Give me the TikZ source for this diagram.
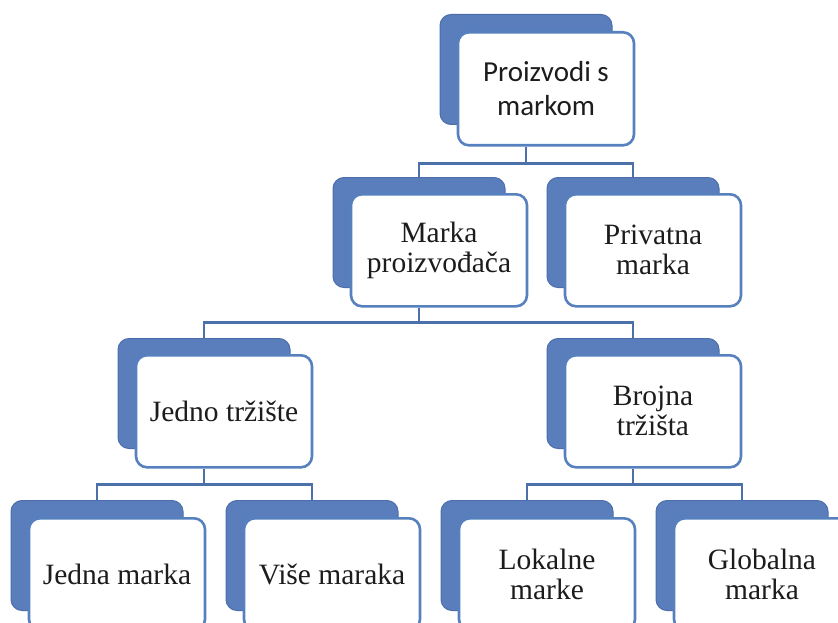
\documentclass[tikz,border=0pt]{standalone}
\usepackage{fontspec}
\setmainfont{Liberation Serif}
\newfontfamily\calfont{Carlito}
\definecolor{shadblue}{RGB}{90,125,188}
\definecolor{shadedge}{RGB}{76,110,170}
\definecolor{cardedge}{RGB}{86,128,190}
\definecolor{linkblue}{RGB}{76,112,170}
\definecolor{textgray}{RGB}{28,28,28}
\tikzset{
  shad/.style={draw=shadedge, fill=shadblue, line width=1pt, rounded corners=11pt,
    minimum width=172pt, minimum height=110pt, inner sep=0pt, anchor=north},
  card/.style={draw=cardedge, fill=white, line width=2.6pt, rounded corners=11pt,
    minimum width=176pt, minimum height=112pt, inner sep=0pt, anchor=north,
    align=center, text=textgray, font=\fontsize{29.5}{30}\selectfont},
  topcard/.style={card, minimum height=113pt, font=\calfont\fontsize{29}{34}\selectfont},
  link/.style={draw=linkblue, line width=2.5pt}
}
\begin{document}
\begin{tikzpicture}[x=1pt,y=-1pt]
\useasboundingbox (0,0) rectangle (838,623);
\clip (0,0) rectangle (838,623);
\fill[white] (0,0) rectangle (838,623);
% row 1
\node[shad] (s1) at (526,14) {};
\node[topcard] (c1) at (546,31) {Proizvodi s\\markom};
% row 2
\node[shad] (s2) at (419,177) {};
\node[card] (c2) at (439,193) {Marka\\proizvođača};
\node[shad] (s3) at (633,177) {};
\node[card] (c3) at (653,193) {Privatna\\marka};
% row 3
\node[shad] (s4) at (204,338) {};
\node[card] (c4) at (224,354) {Jedno tržište};
\node[shad] (s5) at (633,338) {};
\node[card] (c5) at (653,354) {Brojna\\tržišta};
% row 4
\node[shad] (s6) at (97,500) {};
\node[card] (c6) at (117,517) {Jedna marka};
\node[shad] (s7) at (312,500) {};
\node[card] (c7) at (332,517) {Više maraka};
\node[shad] (s8) at (527,500) {};
\node[card] (c8) at (547,517) {Lokalne\\marke};
\node[shad] (s9) at (742,500) {};
\node[card] (c9) at (762,517) {Globalna\\marka};
% connectors
\draw[link] (s1 |- c1.south) -- ++(0,17) -| (s2.north);
\draw[link] (s1 |- c1.south) -- ++(0,17) -| (s3.north);
\draw[link] (s2 |- c2.south) -- ++(0,15) -| (s4.north);
\draw[link] (s2 |- c2.south) -- ++(0,15) -| (s5.north);
\draw[link] (s4 |- c4.south) -- ++(0,16) -| (s6.north);
\draw[link] (s4 |- c4.south) -- ++(0,16) -| (s7.north);
\draw[link] (s5 |- c5.south) -- ++(0,16) -| (s8.north);
\draw[link] (s5 |- c5.south) -- ++(0,16) -| (s9.north);
\end{tikzpicture}
\end{document}
